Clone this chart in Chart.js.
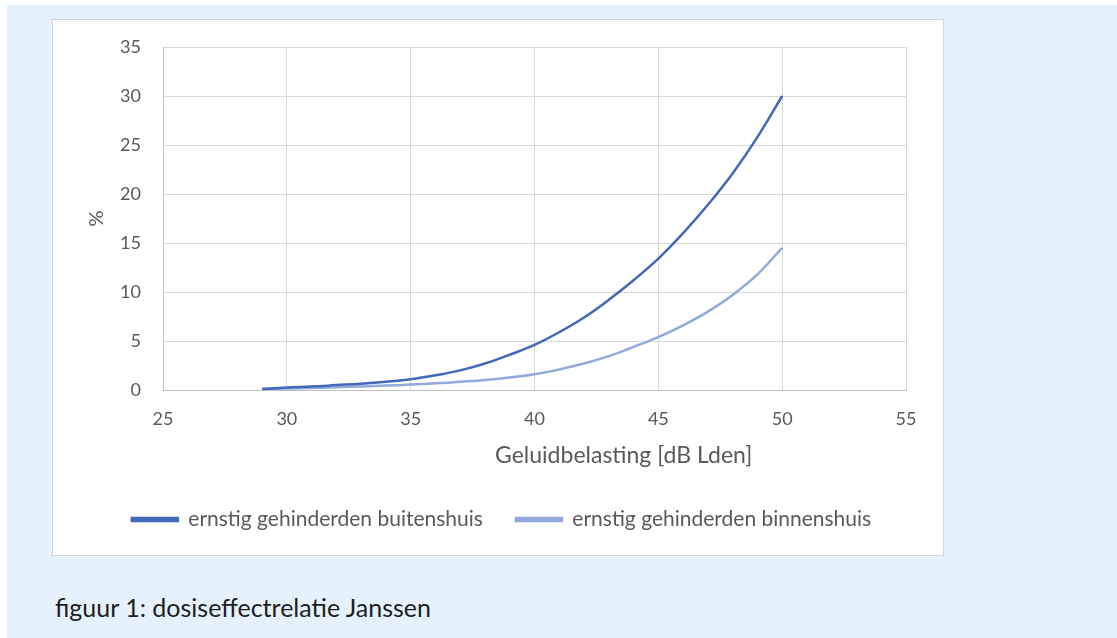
<!DOCTYPE html>
<html>
<head>
<meta charset="utf-8">
<script src="https://cdn.jsdelivr.net/npm/chart.js@4"></script>
<style>
  html, body { margin: 0; padding: 0; background: #ffffff; }
  body { width: 1117px; height: 638px; position: relative; overflow: hidden; font-family: Lato, "Open Sans", sans-serif; }
  .page { position: absolute; left: 7px; top: 5px; width: 1110px; height: 633px; background: #e5f1fc; }
  .box { position: absolute; left: 52px; top: 19px; width: 890px; height: 535px; background: #fff; border: 1px solid #d6d6d6; }
  .caption { position: absolute; left: 55px; top: 592px; font-size: 25px; line-height: 30px; color: #1e1e1e; }
</style>
</head>
<body>
<div class="page"></div>
<div class="box"><canvas id="chart"></canvas></div>
<div class="caption">figuur 1: dosiseffectrelatie Janssen</div>
<script>
// Geluidbelasting [dB Lden]
const lden = [29, 30, 31, 32, 33, 34, 35, 36, 37, 38, 39, 40, 41, 42, 43, 44, 45, 46, 47, 48, 49, 50];
// ernstig gehinderden (%)
const buitenshuis = [0.1, 0.25, 0.35, 0.5, 0.65, 0.85, 1.1, 1.5, 2.0, 2.7, 3.6, 4.6, 5.9, 7.4, 9.2, 11.2, 13.4, 16.0, 18.9, 22.1, 25.8, 30.0];
const binnenshuis = [0.1, 0.15, 0.2, 0.28, 0.36, 0.45, 0.55, 0.68, 0.83, 1.02, 1.27, 1.6, 2.1, 2.7, 3.45, 4.4, 5.4, 6.6, 8.0, 9.7, 11.8, 14.5];

const seriesNames = ["ernstig gehinderden buitenshuis", "ernstig gehinderden binnenshuis"];
const xTitle = "Geluidbelasting [dB Lden]";
const yTitle = "%";
const tickColor = "#595959";
const gridColor = "#d9d9d9";

const toPoints = (ys) => lden.map((x, i) => ({ x: x, y: ys[i] }));

// Excel puts the x axis title a bit right of the plot centre
const xTitlePlugin = {
  id: "xTitle",
  afterDraw(chart) {
    const { ctx, chartArea } = chart;
    ctx.save();
    ctx.font = "23px Lato";
    ctx.fillStyle = tickColor;
    ctx.textAlign = "center";
    ctx.textBaseline = "middle";
    ctx.fillText(xTitle, chartArea.left + chartArea.width * 0.62, chartArea.bottom + 66);
    ctx.restore();
  },
};

new Chart(document.getElementById("chart").getContext("2d"), {
  type: "line",
  data: {
    datasets: [
      {
        label: seriesNames[0],
        data: toPoints(buitenshuis),
        borderColor: "#4169b8",
        backgroundColor: "#4169b8",
        borderWidth: 2.5,
        pointRadius: 0,
        tension: 0.4,
        fill: false,
      },
      {
        label: seriesNames[1],
        data: toPoints(binnenshuis),
        borderColor: "#91a9dc",
        backgroundColor: "#91a9dc",
        borderWidth: 2.5,
        pointRadius: 0,
        tension: 0.4,
        fill: false,
      },
    ],
  },
  plugins: [xTitlePlugin],
  options: {
    responsive: true,
    maintainAspectRatio: false,
    animation: false,
    layout: { padding: { left: 44, right: 37, top: 27, bottom: 15 } },
    plugins: {
      tooltip: { enabled: false },
      legend: {
        position: "bottom",
        labels: {
          boxWidth: 46,
          boxHeight: 3,
          padding: 33,
          color: tickColor,
          font: { family: "Lato", size: 21 },
        },
      },
    },
    scales: {
      x: {
        type: "linear",
        min: 25,
        max: 55,
        afterFit: (axis) => { axis.height = 86; },
        ticks: { stepSize: 5, color: tickColor, padding: 18, font: { family: "Lato", size: 18 } },
        grid: { color: gridColor, drawTicks: false },
        border: { color: "#bfbfbf" },
        title: { display: false },
      },
      y: {
        min: 0,
        max: 35,
        afterFit: (axis) => {
          axis.width = 66;
          axis.paddingTop = 0;
          axis.paddingBottom = 0;
        },
        ticks: { stepSize: 5, color: tickColor, padding: 22, font: { family: "Lato", size: 18 } },
        grid: { color: gridColor, drawTicks: false },
        border: { color: "#bfbfbf" },
        title: {
          display: true,
          text: yTitle,
          color: tickColor,
          font: { family: "Lato", size: 20 },
          padding: { top: -12, bottom: 10 },
        },
      },
    },
  },
});
</script>
</body>
</html>
